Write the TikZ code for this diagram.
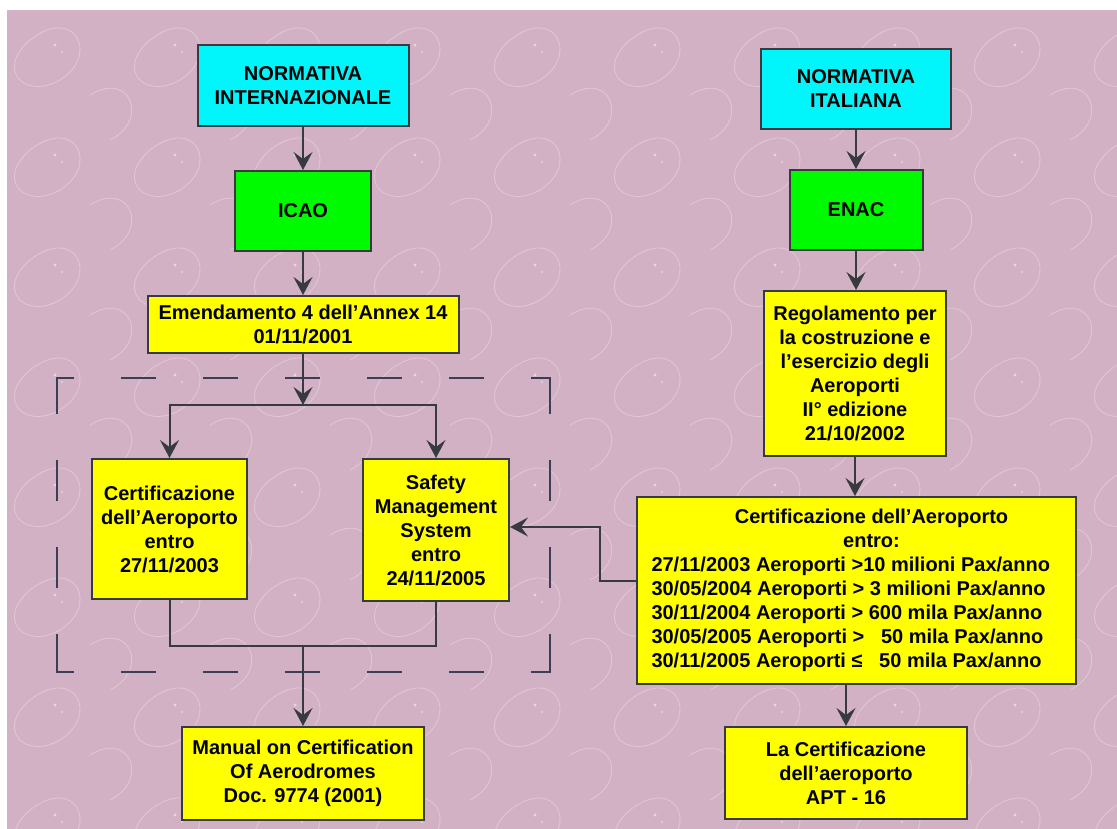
\documentclass[tikz,border=0pt]{standalone}
\usepackage{fontspec}
\setmainfont{Liberation Sans}
\usetikzlibrary{arrows.meta}
\definecolor{mauve}{RGB}{211,177,196}
\definecolor{boxcyan}{RGB}{0,246,250}
\definecolor{boxgreen}{RGB}{0,250,0}
\definecolor{boxyellow}{RGB}{255,255,0}
\definecolor{edgegray}{RGB}{55,58,62}
\definecolor{dashgray}{RGB}{60,62,85}

\begin{document}
\begin{tikzpicture}[x=1pt,y=-1pt,>={Stealth[length=18pt,width=19pt,inset=7pt]}]
\tikzstyle{box}=[draw=edgegray,line width=2pt,align=center,inner sep=2pt,font=\fontsize{20}{24}\selectfont\bfseries]
\tikzstyle{norm}=[box,fill=boxcyan]
\tikzstyle{authority}=[box,fill=boxgreen]
\tikzstyle{doc}=[box,fill=boxyellow]
\tikzstyle{link}=[draw=edgegray,line width=2pt]
\tikzstyle{hside}=[dashgray,line width=2.5pt,line cap=rect,dash pattern=on 32pt off 50pt,dash phase=16.5pt]
\tikzstyle{vside}=[dashgray,line width=2.5pt,line cap=rect,dash pattern=on 38pt off 49pt,dash phase=3.5pt]
\useasboundingbox (0,0) rectangle (1117,829);
\fill[mauve] (7,10) rectangle (1117,829);
% faint swirls of the paper
\begin{scope}
\clip (7,10) rectangle (1117,829);
\foreach \i in {0,...,9}
  \foreach \j in {0,...,7} {
    \draw[white,opacity=0.3,line width=0.8pt]
      (\i*120+30,\j*110+40) .. controls (\i*120+75,\j*110+5) and (\i*120+100,\j*110+55) .. (\i*120+60,\j*110+80)
      .. controls (\i*120+25,\j*110+100) and (\i*120-5,\j*110+70) .. (\i*120+30,\j*110+40);
    \draw[white,opacity=0.3,line width=0.8pt]
      (\i*120+90,\j*110+95) .. controls (\i*120+130,\j*110+70) and (\i*120+150,\j*110+120) .. (\i*120+110,\j*110+140);
    \fill[white,opacity=0.45] (\i*120+55,\j*110+45) circle (1.6pt) (\i*120+62,\j*110+52) circle (1.2pt);
  }
\end{scope}
% the two deadlines of the annex
\draw[hside] (57,378) -- (550,378);
\draw[hside] (57,672) -- (550,672);
\draw[vside] (57,378) -- (57,672);
\draw[vside] (550,378) -- (550,672);

% international side
\node [norm,minimum width=211pt,minimum height=81pt] (ni) at (303,86) {NORMATIVA\\INTERNAZIONALE};
\node [authority,minimum width=136pt,minimum height=80pt] (icao) at (303,211) {ICAO};
\node [doc,minimum width=311pt,minimum height=57pt] (emend) at (303,324.5) {Emendamento 4 dell’Annex 14\\01/11/2001};
\node [doc,minimum width=155pt,minimum height=140pt] (cert) at (169.5,529) {Certificazione\\dell’Aeroporto\\entro\\27/11/2003};
\node [doc,minimum width=146pt,minimum height=142pt] (sms) at (436,530) {Safety\\Management\\System\\entro\\24/11/2005};
\node [doc,minimum width=242pt,minimum height=93pt] (manual) at (303,773.5) {Manual on Certification\\Of Aerodromes\\Doc. 9774 (2001)};

% italian side
\node [norm,minimum width=190pt,minimum height=80pt] (nit) at (856,89) {NORMATIVA\\ITALIANA};
\node [authority,minimum width=133pt,minimum height=80pt] (enac) at (856,210) {ENAC};
\node [doc,minimum width=182pt,minimum height=165pt] (reg) at (855,373.5) {Regolamento per\\la costruzione e\\l’esercizio degli\\Aeroporti\\II° edizione\\21/10/2002};
\node [doc,minimum width=439pt,minimum height=187pt] (certit) at (856.5,590.5) {\hspace*{30pt}Certificazione dell’Aeroporto\\\hspace*{30pt}entro:\\
  \makebox[410pt][l]{27/11/2003 Aeroporti >10 milioni Pax/anno}\\
  \makebox[410pt][l]{30/05/2004 Aeroporti > 3 milioni Pax/anno}\\
  \makebox[410pt][l]{30/11/2004 Aeroporti > 600 mila Pax/anno}\\
  \makebox[410pt][l]{30/05/2005 Aeroporti > \phantom{6}50 mila Pax/anno}\\
  \makebox[410pt][l]{30/11/2005 Aeroporti ≤ \phantom{6}50 mila Pax/anno}};
\node [doc,minimum width=242pt,minimum height=92pt] (apt) at (846,773) {La Certificazione\\dell'aeroporto\\APT - 16};

\coordinate (split) at (303,405);
\coordinate (join) at (303,646);
\coordinate (bend) at (600,527);

\draw[link,->] (ni) -- (icao);
\draw[link,->] (icao) -- (emend);
\draw[link,->] (emend) -- (split);
\draw[link,->] (split) -| (cert);
\draw[link,->] (split) -| (sms);
\draw[link] (cert) |- (join) -| (sms);
\draw[link,->] (join) -- (manual);

\draw[link,->] (nit) -- (enac);
\draw[link,->] (enac) -- (enac.south |- reg.north);
\draw[link,->] (reg) -- (reg.south |- certit.north);
\draw[link,->] (certit.south -| apt) -- (apt);
\draw[link,->] ([yshift=10pt]certit.west) -| (bend) -- (bend -| sms.east);
\end{tikzpicture}
\end{document}
